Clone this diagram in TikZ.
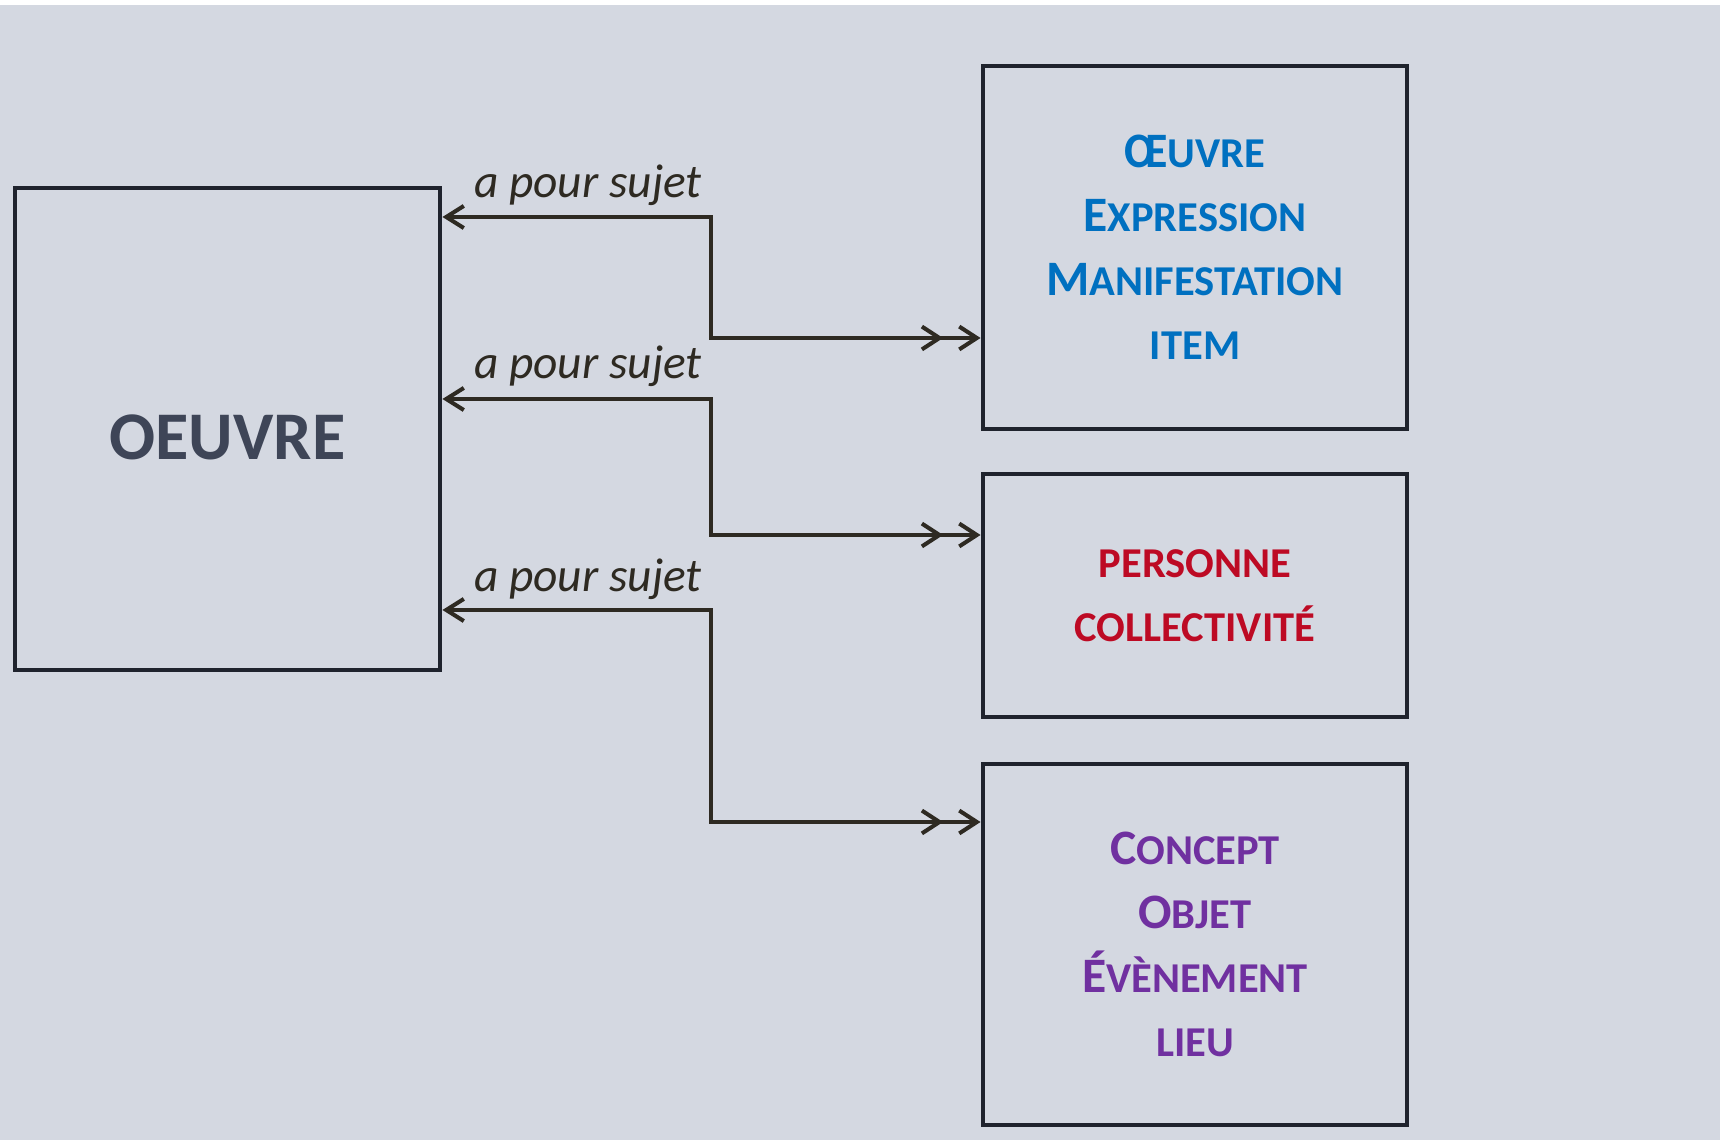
\documentclass[tikz,border=0pt]{standalone}
\usepackage{fontspec}
\setmainfont{Carlito}
\usetikzlibrary{arrows.meta}

\definecolor{fond}{HTML}{D4D8E1}
\definecolor{trait}{HTML}{1F232D}
\definecolor{fleche}{HTML}{2E2A22}
\definecolor{bleu}{HTML}{0070C0}
\definecolor{rouge}{HTML}{BD0A24}
\definecolor{violet}{HTML}{7030A0}
\definecolor{ardoise}{HTML}{3E4557}

\newcommand\petit[1]{{\fontsize{12.1pt}{18.2pt}\selectfont #1}}

\tikzset{
	boite/.style = {draw = trait, line width = 1.4pt, minimum width = 4.24cm, inner sep = 0pt, align = center, font = \bfseries\fontsize{14.1pt}{18.2pt}\selectfont},
	lien/.style = {draw = fleche, line width = 1.15pt, {Straight Barb[length = 5pt, width = 6.3pt]}-{Straight Barb[length = 5pt, width = 6.5pt, sep = 4pt] Straight Barb[length = 5pt, width = 6.5pt]}},
	etiq/.style = {text = fleche, inner sep = 0pt, font = \itshape\fontsize{13.5pt}{16pt}\selectfont}
}

\begin{document}
\begin{tikzpicture}

	% Definition
	
	\def\xc{7.11}		% Vertical part of the links
	
	% Background
	
	\fill [fond] (0, 0) rectangle (17.2, 11.35);
	\useasboundingbox (0, 0) rectangle (17.2, 11.4);
	
	% Boxes
	
	\node [boite, minimum width = 4.25cm, minimum height = 4.82cm, text height = 17.5pt, text depth = 0pt, text = ardoise, font = \bfseries\fontsize{19.4pt}{22pt}\selectfont] (oeuvre) at (2.275, 7.11) {OEUVRE};
	\node [boite, minimum height = 3.63cm, text = bleu] (freo) at (11.95, 8.925) {Œ\petit{UVRE}\\E\petit{XPRESSION}\\M\petit{ANIFESTATION}\\\petit{ITEM}};
	\node [boite, minimum height = 2.43cm, text = rouge] (agent) at (11.95, 5.445) {\petit{PERSONNE}\\\petit{COLLECTIVITÉ}};
	\node [boite, minimum height = 3.61cm, text = violet] (sujet) at (11.95, 1.955) {C\petit{ONCEPT}\\O\petit{BJET}\\É\petit{VÈNEMENT}\\\petit{LIEU}};
	
	% Links w/ labels
	
	\draw [lien] (oeuvre.east |- 0, 9.23) -| (\xc, 8.02) -- (freo.west |- 0, 8.02);
	\draw [lien] (oeuvre.east |- 0, 7.41) -| (\xc, 6.05) -- (agent.west |- 0, 6.05);
	\draw [lien] (oeuvre.east |- 0, 5.30) -| (\xc, 3.18) -- (sujet.west |- 0, 3.18);
	
	\node [etiq] (sujet1) at (5.88, 9.55) {a pour sujet};
	\node [etiq] (sujet2) at (5.88, 7.74) {a pour sujet};
	\node [etiq] (sujet3) at (5.88, 5.61) {a pour sujet};

\end{tikzpicture}
\end{document}
